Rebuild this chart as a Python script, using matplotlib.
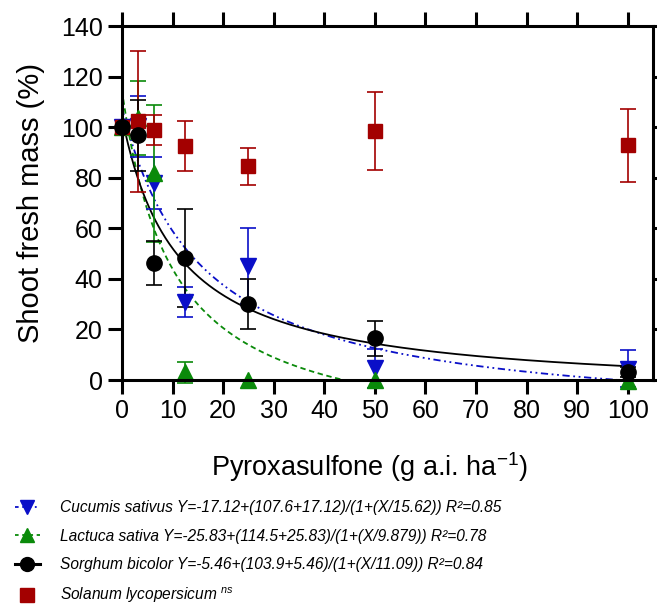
import numpy as np
import matplotlib
matplotlib.use("Agg")
import matplotlib.pyplot as plt
from matplotlib.lines import Line2D

plt.rcParams['font.family'] = ['Liberation Sans', 'DejaVu Sans']
plt.rcParams['mathtext.fontset'] = 'custom'
plt.rcParams['mathtext.rm'] = 'Liberation Sans'
plt.rcParams['mathtext.it'] = 'Liberation Sans:italic'

# ---- data ----
doses = [0, 3.125, 6.25, 12.5, 25, 50, 100]

cucumis_mean = [100, 100.3, 78.0, 30.9, 45.0, 4.6, 4.5]
cucumis_err = [0, 12.0, 10.3, 6.0, 15.0, 7.7, 7.4]

lactuca_mean = [100, 103.5, 81.7, 3.0, 0.0, 0.0, -0.5]
lactuca_err = [0, 14.7, 27.0, 4.0, 0.0, 0.0, 0.0]

sorghum_mean = [100, 96.7, 46.2, 48.1, 30.0, 16.5, 3.3]
sorghum_err = [0, 14.0, 8.7, 19.4, 9.8, 7.0, 2.0]

solanum_mean = [100, 102.3, 99.0, 92.5, 84.6, 98.5, 92.9]
solanum_err = [0, 28.0, 6.0, 9.8, 7.3, 15.5, 14.4]

# fitted model parameters (bottom, top, EC50) from legend
cucumis_fit = (-17.12, 107.6, 15.62)
lactuca_fit = (-25.83, 114.5, 9.879)
sorghum_fit = (-5.46, 103.9, 11.09)

labels = [
    "Cucumis sativus Y=-17.12+(107.6+17.12)/(1+(X/15.62)) R²=0.85",
    "Lactuca sativa Y=-25.83+(114.5+25.83)/(1+(X/9.879)) R²=0.78",
    "Sorghum bicolor Y=-5.46+(103.9+5.46)/(1+(X/11.09)) R²=0.84",
    r"Solanum lycopersicum $^{ns}$",
]

xticks = list(range(0, 101, 10))
yticks = list(range(0, 141, 20))

RED = '#a30000'
BLUE = '#0a0fc8'
GREEN = '#0a8a0a'
BLACK = '#000000'

def model(x, p):
    b, t, e = p
    return b + (t - b) / (1 + x / e)

W, H = 657, 606
fig = plt.figure(figsize=(W / 100, H / 100), dpi=100)
ax = fig.add_axes([122 / W, 1 - 380 / H, (653 - 122) / W, (380 - 26) / H])

xs = np.linspace(0, 100, 500)
ax.plot(xs, model(xs, cucumis_fit), color=BLUE, lw=1.3, ls=(0, (4, 2, 1, 2, 1, 2)))
ax.plot(xs, model(xs, lactuca_fit), color=GREEN, lw=1.3, ls=(0, (3, 2)))
ax.plot(xs, model(xs, sorghum_fit), color=BLACK, lw=1.3, ls='-')
n_curves = len(ax.lines)

ebkw = dict(ls='none', capsize=5.5, elinewidth=1.2, capthick=1.2)
ax.errorbar(doses, cucumis_mean, yerr=cucumis_err, color=BLUE, marker='v', ms=11.5, **ebkw)
ax.errorbar(doses, lactuca_mean, yerr=lactuca_err, color=GREEN, marker='^', ms=11.5, **ebkw)
ax.errorbar(doses, solanum_mean, yerr=solanum_err, color=RED, marker='s', ms=10.5, **ebkw)
ax.errorbar(doses, sorghum_mean, yerr=sorghum_err, color=BLACK, marker='o', ms=11, **ebkw)
for c in ax.lines[n_curves:] + list(ax.collections):
    c.set_clip_on(False)

ax.set_xlim(0, 105)
ax.set_ylim(0, 140)
ax.set_xticks(xticks)
ax.set_yticks(yticks)
ax.tick_params(axis='both', which='major', direction='out', length=10, width=2.2,
               labelsize=18, pad=4, top=True, right=True)
for s in ax.spines.values():
    s.set_linewidth(2.2)
ax.set_xlabel("Pyroxasulfone (g a.i. ha$^{-1}$)", fontsize=19.5)
ax.xaxis.label.set_va('center')
ax.xaxis.set_label_coords((370 - 122) / (653 - 122), -(467 - 380) / (380 - 26))
ax.set_ylabel("Shoot fresh mass (%)", fontsize=21, labelpad=11)

handles = [
    Line2D([], [], color=BLUE, ls=(0, (2, 2, 1, 2)), lw=1.3, marker='v', ms=10),
    Line2D([], [], color=GREEN, ls=(0, (2, 2)), lw=1.3, marker='^', ms=10),
    Line2D([], [], color=BLACK, ls='-', lw=2.2, marker='o', ms=10),
    Line2D([], [], color=RED, ls='none', marker='s', ms=10),
]
leg = fig.legend(handles, labels, loc='upper left', bbox_to_anchor=(15 / W, 1 - 500 / H),
                 frameon=False, fontsize=11.2, handlelength=1.6, handletextpad=1.29,
                 labelspacing=0.87, borderaxespad=0, borderpad=0)
for t in leg.get_texts():
    t.set_style('italic')

fig.savefig("out.png", dpi=100)
